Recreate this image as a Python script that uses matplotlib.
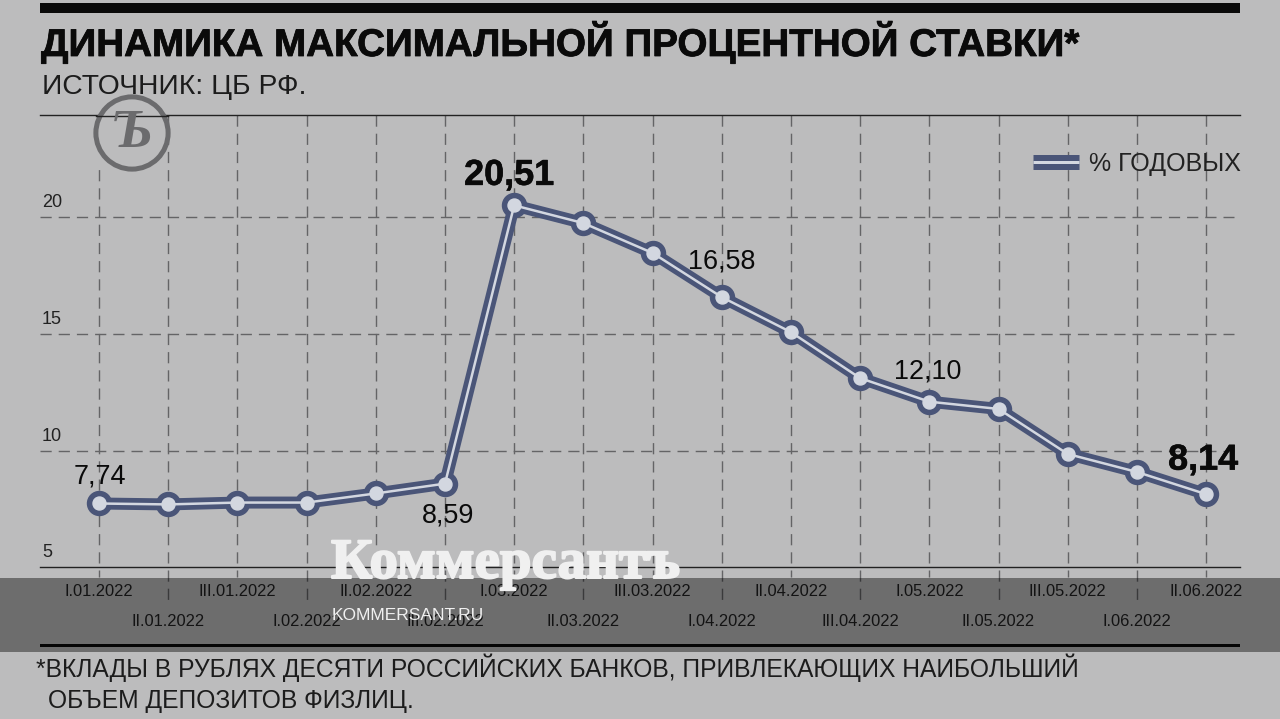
#!/usr/bin/env python3
import matplotlib
matplotlib.use("Agg")
import matplotlib.pyplot as plt
import matplotlib.patheffects as pe
from matplotlib.legend_handler import HandlerTuple
from matplotlib.lines import Line2D
from matplotlib.patches import Circle, Rectangle

W, H = 1280, 719

periods = ["I.01.2022", "II.01.2022", "III.01.2022", "I.02.2022", "II.02.2022", "III.02.2022",
           "I.03.2022", "II.03.2022", "III.03.2022", "I.04.2022", "II.04.2022", "III.04.2022",
           "I.05.2022", "II.05.2022", "III.05.2022", "I.06.2022", "II.06.2022"]
rates = [7.74, 7.70, 7.78, 7.78, 8.17, 8.59, 20.51, 19.75, 18.47, 16.58, 15.08, 13.11,
         12.10, 11.79, 9.86, 9.09, 8.14]
y_ticks = [5, 10, 15, 20]
y_tick_labels = ["5", "10", "15", "20"]

plt.rcParams["font.family"] = ["Liberation Sans", "DejaVu Sans"]

BG = "#bcbcbd"
NAVY = "#4a5578"
LIGHT = "#d3d7e0"
GRID = "#646466"
TXT = "#1c1c1c"
INK = "#0a0a0a"


def fx(x):
    return x / W


def fy(y):
    return 1 - y / H


def px(n):
    return n * 0.72


def heavy(w):
    return [pe.withStroke(linewidth=px(w), foreground=INK)]


fig = plt.figure(figsize=(W / 100, H / 100), dpi=100, facecolor=BG)

# plot area, 40..1240 x 115..567 px
ax = fig.add_axes([fx(40), fy(567), 1200 / W, 452 / H], facecolor="none")
ax.set_xlim(-0.853, 16.49)
ax.set_ylim(5.02, 24.38)
for side in ["left", "right"]:
    ax.spines[side].set_visible(False)
for side in ["top", "bottom"]:
    ax.spines[side].set_color("#222222")
    ax.spines[side].set_linewidth(px(1.4))

dash = (0, (8, 5))
xs = list(range(len(periods)))
ax.hlines(y_ticks[1:], -0.853, 16.4, color=GRID, lw=px(1.4), linestyle=dash)
tr = ax.get_xaxis_transform()
for i in xs:
    ax.plot([i, i], [1, -0.023 if i % 2 == 0 else -0.08], transform=tr, clip_on=False,
            color=GRID, lw=px(1.4), linestyle=dash, zorder=1)

# double line with ringed markers
ax.plot(xs, rates, color=NAVY, lw=px(12), solid_joinstyle="round", zorder=3,
        marker="o", ms=px(24), mfc=NAVY, mec=NAVY)
ax.plot(xs, rates, color=LIGHT, lw=px(2.5), zorder=4,
        marker="o", ms=px(13), mfc=LIGHT, mec=LIGHT)

ax.set_yticks([])
ax.set_xticks(xs)
ax.set_xticklabels(periods, fontsize=px(16.5), color="#222222")
ax.tick_params(axis="x", length=0, pad=px(17))
for lab in ax.get_xticklabels()[1::2]:
    lab.set_y(-0.066)

for v, s in zip(y_ticks, y_tick_labels):
    ax.annotate(s, (0, v), xycoords=("axes fraction", "data"), xytext=(px(2), px(6)),
                textcoords="offset points", fontsize=px(18),
                ha="left", va="bottom", color="#222222")

# value labels: index, text, dx, dy in px, bold
notes = [(0, "7,74", 1, 27, False), (5, "8,59", 3, -32, False), (6, "20,51", -5, 30, True),
         (9, "16,58", 0, 36, False), (12, "12,10", -2, 30, False), (16, "8,14", -3, 34, True)]
for i, s, dx, dy, bold in notes:
    t = ax.annotate(s, (i, rates[i]), xytext=(px(dx), px(dy)), textcoords="offset points",
                    ha="center", va="center", color=INK, zorder=5,
                    fontsize=px(36) if bold else px(27), fontweight="bold" if bold else "normal")
    if bold:
        t.set_path_effects(heavy(0.6))

leg_dark = Line2D([], [], color=NAVY, lw=px(15), solid_capstyle="butt")
leg_light = Line2D([], [], color=LIGHT, lw=px(3), solid_capstyle="butt")
ax.legend([(leg_dark, leg_light)], ["% ГОДОВЫХ"],
          handler_map={tuple: HandlerTuple(ndivide=1, pad=0)},
          frameon=False, loc="center right", bbox_to_anchor=(fx(1241), fy(164)),
          bbox_transform=fig.transFigure, fontsize=px(25), labelcolor="#222222",
          handlelength=1.85, handletextpad=0.4, borderpad=0, borderaxespad=0)

# logo, its background hides the grid behind it, the top rule stays visible
logo_ax = fig.add_axes([fx(90), fy(175), 84 / W, 84 / H], zorder=2)
logo_ax.set_xlim(-1, 1)
logo_ax.set_ylim(-1, 1)
logo_ax.axis("off")
logo_ax.add_patch(Rectangle((-0.95, -0.78), 0.45, 1.16, fc=BG, ec="none"))
logo_ax.add_patch(Circle((0, 0), 0.86, fc=BG, ec="none"))
logo_ax.plot([-0.86, 0.86], [0.405, 0.405], color="#222222", lw=px(1.4))
logo_ax.add_patch(Circle((0, 0), 0.86, fill=False, ec="#6b6b6d", lw=px(5)))
logo_ax.text(0, -0.03, "Ъ", family="Liberation Serif", style="italic", fontweight="bold",
             fontsize=px(54), color="#6b6b6d", ha="center", va="center")

# header and footer
fig.add_artist(Rectangle((fx(40), fy(13)), 1200 / W, 10 / H, transform=fig.transFigure,
                         fc=INK, ec="none"))
title = fig.text(fx(41), fy(56), "ДИНАМИКА МАКСИМАЛЬНОЙ ПРОЦЕНТНОЙ СТАВКИ*", fontsize=px(38.6),
                 fontweight="bold", color=INK, ha="left", va="baseline")
title.set_path_effects(heavy(0.8))
fig.text(fx(42), fy(94), "ИСТОЧНИК: ЦБ РФ.", fontsize=px(28.2), color=TXT,
         ha="left", va="baseline")
fig.text(fx(36), fy(677), "*ВКЛАДЫ В РУБЛЯХ ДЕСЯТИ РОССИЙСКИХ БАНКОВ, ПРИВЛЕКАЮЩИХ НАИБОЛЬШИЙ",
         fontsize=px(24.6), color=TXT, ha="left", va="baseline")
fig.text(fx(48), fy(708), "ОБЪЕМ ДЕПОЗИТОВ ФИЗЛИЦ.", fontsize=px(24.6), color=TXT,
         ha="left", va="baseline")
fig.add_artist(Rectangle((fx(40), fy(647)), 1200 / W, 3 / H, transform=fig.transFigure,
                         fc=INK, ec="none", zorder=3))

# dark watermark band
fig.add_artist(Rectangle((0, fy(652)), 1, 74 / H, transform=fig.transFigure,
                         fc="black", ec="none", alpha=0.42, zorder=6))
brand = fig.text(fx(331), fy(578), "Коммерсантъ", family="Liberation Serif", fontweight="bold",
                 fontsize=px(57), color="#f0f0f0", ha="left", va="baseline", zorder=7)
brand.set_path_effects([pe.withStroke(linewidth=px(2), foreground="#f0f0f0")])
fig.text(fx(332), fy(620), "KOMMERSANT.RU", fontsize=px(17.4), color="white",
         alpha=0.9, ha="left", va="baseline", zorder=7)

fig.savefig("out.png", dpi=100, facecolor=BG)
plt.close(fig)
